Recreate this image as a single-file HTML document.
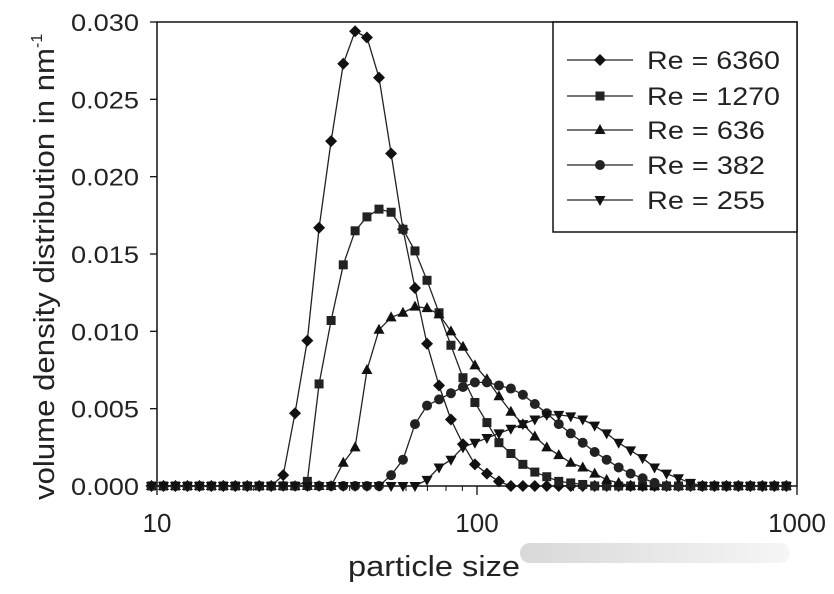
<!DOCTYPE html>
<html><head><meta charset="utf-8"><style>
html,body{margin:0;padding:0;background:#fff;}
svg{display:block;font-family:"Liberation Sans",Arial,sans-serif;}
</style></head><body>
<svg id="chart" width="834" height="594" viewBox="0 0 834 594" xmlns="http://www.w3.org/2000/svg">
<defs><linearGradient id="wm" x1="0" x2="1" y1="0" y2="0"><stop offset="0" stop-color="#d8d8d8"/><stop offset="1" stop-color="#f6f6f6"/></linearGradient></defs>
<rect width="834" height="594" fill="#fff"/>
<rect x="520" y="543" width="270" height="20" rx="10" fill="url(#wm)"/>
<g id="plot"></g>
<g id="legend"></g>
</svg>
<script>
const sizes = [9.61,10.48,11.42,12.45,13.57,14.79,16.12,17.57,19.15,20.87,22.75,24.8,27.0,29.5,32.1,35.0,38.2,41.6,45.3,49.4,53.9,58.7,64.0,69.8,76.1,82.9,90.4,98.5,107.4,117.1,127.6,139.1,151.6,165.2,180.1,196.3,214.0,233.2,254.2,277.1,302.0,329.2,358.8,391.1,426.3,464.7,506.5,552.1,601.8,655.9,715.0,779.3,849.5,925.9];
const seriesNames = ["Re = 6360","Re = 1270","Re = 636","Re = 382","Re = 255"];
const seriesMarkers = ["diamond","square","triangle","circle","invtri"];
const re6360 = [0,0,0,0,0,0,0,0,0,0,0,0.0007,0.0047,0.0094,0.0167,0.0223,0.0273,0.0294,0.0290,0.0264,0.0215,0.0166,0.0128,0.0092,0.0065,0.0043,0.0027,0.0014,0.0008,0.0003,0,0,0,0,0,0,0,0,0,0,0,0,0,0,0,0,0,0,0,0,0,0,0,0];
const re1270 = [0,0,0,0,0,0,0,0,0,0,0,0,0,0.0003,0.0066,0.0107,0.0143,0.0165,0.0174,0.0179,0.0177,0.0166,0.0152,0.0133,0.0112,0.0091,0.0070,0.0054,0.0041,0.0028,0.0021,0.0014,0.0009,0.0006,0.0003,0.0002,0.0001,0,0,0,0,0,0,0,0,0,0,0,0,0,0,0,0,0];
const re636 = [0,0,0,0,0,0,0,0,0,0,0,0,0,0,0,0,0.0015,0.0025,0.0075,0.0101,0.0109,0.0112,0.0116,0.0115,0.0111,0.0100,0.0090,0.0078,0.0069,0.0058,0.0048,0.0040,0.0032,0.0025,0.0020,0.0015,0.0012,0.0008,0.0004,0.0002,0,0,0,0,0,0,0,0,0,0,0,0,0,0];
const re382 = [0,0,0,0,0,0,0,0,0,0,0,0,0,0,0,0,0,0,0,0,0.0007,0.0017,0.0040,0.0052,0.0056,0.0060,0.0064,0.0067,0.0067,0.0065,0.0063,0.0059,0.0053,0.0047,0.0040,0.0034,0.0028,0.0022,0.0017,0.0012,0.0008,0.0005,0.0002,0,0,0,0,0,0,0,0,0,0,0];
const re255 = [0,0,0,0,0,0,0,0,0,0,0,0,0,0,0,0,0,0,0,0,0,0,0,0.0004,0.0012,0.0017,0.0025,0.0028,0.0031,0.0034,0.0037,0.0040,0.0043,0.0046,0.0046,0.0045,0.0043,0.0039,0.0034,0.0028,0.0023,0.0018,0.0012,0.0008,0.0005,0.0002,0,0,0,0,0,0,0,0];
const yTicks = [0,0.005,0.010,0.015,0.020,0.025,0.030];
const yTickLabels = ["0.000","0.005","0.010","0.015","0.020","0.025","0.030"];
const xTicks = [10,100,1000];
const xTickLabels = ["10","100","1000"];

const NS="http://www.w3.org/2000/svg";
const L=157,R=797,T=22,B=486;
function xs(v){return L+(R-L)*Math.log10(v/10)/2;}
function ys(v){return B-(B-T)*v/0.03;}
function mk(tag,attrs,parent){const e=document.createElementNS(NS,tag);for(const k in attrs)e.setAttribute(k,attrs[k]);parent.appendChild(e);return e;}
const plot=document.getElementById('plot');
const legend=document.getElementById('legend');

const frame=mk('rect',{x:L,y:T,width:R-L,height:B-T,fill:'none',stroke:'#111','stroke-width':1.5},plot);



yTicks.forEach((t,i)=>{
  const y=ys(t);
  const tk=mk('line',{x1:L-7,x2:L,y1:y,y2:y,stroke:'#111','stroke-width':1.3},plot);
  
  
  const tx=mk('text',{x:139,y:y+9,'text-anchor':'end','font-size':24,fill:'#222',textLength:68,lengthAdjust:'spacingAndGlyphs'},plot);
  tx.textContent=yTickLabels[i];
  
  
});
xTicks.forEach((t,i)=>{
  const x=xs(t);
  const tk=mk('line',{x1:x,x2:x,y1:B,y2:B+9,stroke:'#111','stroke-width':1.3},plot);
  
  
  const tx=mk('text',{x:x,y:532,'text-anchor':'middle','font-size':26,fill:'#222'},plot);
  tx.textContent=xTickLabels[i];
  
  
});
[20,30,40,50,60,70,80,90,200,300,400,500,600,700,800,900].forEach(m=>{
  const x=xs(m);
  const tk=mk('line',{x1:x,x2:x,y1:B,y2:B+5,stroke:'#111','stroke-width':1},plot);
  
  
});

const xt=mk('text',{x:434,y:576,'text-anchor':'middle','font-size':29,fill:'#222',textLength:172,lengthAdjust:'spacingAndGlyphs'},plot);
xt.textContent='particle size';


const yt=mk('text',{x:0,y:0,'font-size':29,fill:'#222',transform:'translate(54,500) rotate(-90)'},plot);
yt.innerHTML='<tspan textLength="452" lengthAdjust="spacingAndGlyphs">volume density distribution in nm</tspan><tspan dy="-12" font-size="16">-1</tspan>';



function marker(type,x,y,parent){
  let e;
  if(type==='diamond') e=mk('polygon',{points:`${x},${y-6} ${x+6},${y} ${x},${y+6} ${x-6},${y}`,fill:'#111'},parent);
  else if(type==='square') e=mk('rect',{x:x-4.5,y:y-4.5,width:9,height:9,fill:'#222'},parent);
  else if(type==='triangle') e=mk('polygon',{points:`${x},${y-6} ${x+5.5},${y+4} ${x-5.5},${y+4}`,fill:'#111'},parent);
  else if(type==='circle') e=mk('circle',{cx:x,cy:y,r:5,fill:'#222'},parent);
  else e=mk('polygon',{points:`${x},${y+6} ${x+5.5},${y-4} ${x-5.5},${y-4}`,fill:'#111'},parent);
  return e;
}
const allSeries=[re6360,re1270,re636,re382,re255];
const seriesKeys=['re-6360','re-1270','re-636','re-382','re-255'];
allSeries.forEach((vals,si)=>{
  const g=mk('g',{},plot);
  
  
  const pts=vals.map((v,i)=>xs(sizes[i]).toFixed(1)+','+ys(v).toFixed(1)).join(' ');
  const pl=mk('polyline',{points:pts,fill:'none',stroke:'#222','stroke-width':1.3},g);
  
  
  vals.forEach((v,i)=>{
    const m=marker(seriesMarkers[si],xs(sizes[i]),ys(v),g);
    
    
  });
});

const lb=mk('rect',{x:553,y:22,width:244,height:210,fill:'#fff',stroke:'#111','stroke-width':1.5},legend);


const legY=[60,96,130,165,200];
seriesNames.forEach((n,i)=>{
  const g=mk('g',{},legend);
  
  
  mk('line',{x1:567,x2:633,y1:legY[i],y2:legY[i],stroke:'#222','stroke-width':1.3},g);
  marker(seriesMarkers[i],600,legY[i],g);
  const t=mk('text',{x:647,y:legY[i]+9,'font-size':25,fill:'#222',textLength:133,lengthAdjust:'spacingAndGlyphs'},g);
  if(n.length<9) t.setAttribute('textLength',118);
  t.textContent=n;
});
</script>
</body></html>
